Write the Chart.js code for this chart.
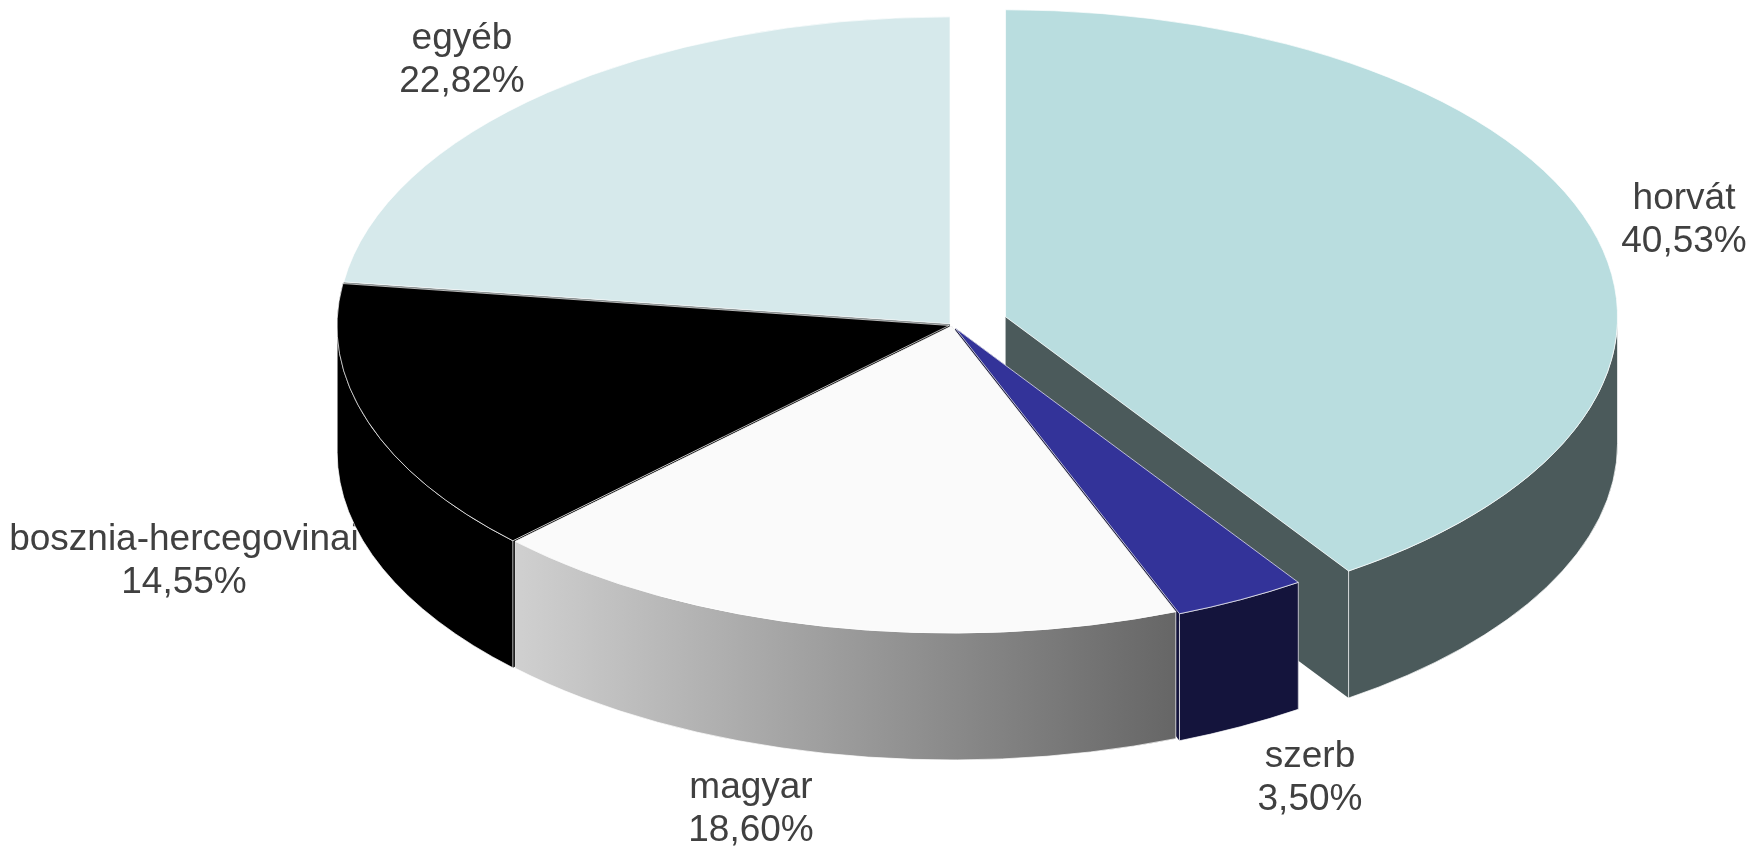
<!DOCTYPE html>
<html>
<head>
<meta charset="utf-8">
<title>Nemzetiségi megoszlás</title>
<script src="https://cdn.jsdelivr.net/npm/chart.js@4/dist/chart.umd.min.js"></script>
<style>
	html, body { margin: 0; padding: 0; background: #fff; overflow: hidden; }
	canvas { display: block; }
</style>
</head>
<body>
<canvas id="chartContainer" width="1753" height="848"></canvas>
<script>
const categories = ["horvát", "szerb", "magyar", "bosznia-hercegovinai", "egyéb"];
const shares = [40.53, 3.5, 18.6, 14.55, 22.82];

const topColors = ["#b9dddf", "#333399", "#fafafa", "#000000", "#d6e9eb"];
const wallColors = ["#4b5a5b", "#14143c", "#666666", "#000000", "#6b7475"];
const magyarWallStops = ["#d0d0d0", "#666666"];

// how the flat pie is laid on the page
const centerX = 952, centerY = 325;
const radiusX = 612, radiusY = 307, depth = 127;
const explode = [56, 7, 2, 3, 3];
const drawOrder = [4, 0, 3, 1, 2];
const labelPos = [[1684, 199], [1310, 757], [751, 788], [184, 540], [462, 39]];
const lineHeight = 43;

function drawLabels(ctx) {
	ctx.save();
	ctx.font = "37px 'Liberation Sans'";
	ctx.fillStyle = "#404040";
	ctx.textAlign = "center";
	ctx.textBaseline = "middle";
	categories.forEach((name, i) => {
		ctx.fillText(name, labelPos[i][0], labelPos[i][1]);
		ctx.fillText(shares[i].toFixed(2).replace(".", ",") + "%", labelPos[i][0], labelPos[i][1] + lineHeight);
	});
	ctx.restore();
}

function radialFace(ctx, cx, cy, angle) {
	const ex = cx + Math.cos(angle) * radiusX;
	const ey = cy + Math.sin(angle) * radiusY;
	ctx.beginPath();
	ctx.moveTo(cx, cy);
	ctx.lineTo(cx, cy + depth);
	ctx.lineTo(ex, ey + depth);
	ctx.lineTo(ex, ey);
	ctx.closePath();
	ctx.fill();
}

function drawWall(ctx, cx, cy, start, end, i) {
	ctx.fillStyle = wallColors[i];
	ctx.strokeStyle = "#ffffff";
	ctx.lineWidth = 0.7;
	// the cut faces, seen only through the gaps between slices
	radialFace(ctx, cx, cy, start);
	radialFace(ctx, cx, cy, end);

	// outer curved face, only the front half of the ellipse shows
	const a0 = Math.max(start, 0);
	const a1 = Math.min(end, Math.PI);
	if (a1 <= a0) return;
	const x0 = cx + Math.cos(a0) * radiusX;
	const x1 = cx + Math.cos(a1) * radiusX;
	if (i === 2) {
		const grad = ctx.createLinearGradient(x1, 0, x0, 0);
		grad.addColorStop(0, magyarWallStops[0]);
		grad.addColorStop(1, magyarWallStops[1]);
		ctx.fillStyle = grad;
	}
	ctx.beginPath();
	ctx.ellipse(cx, cy, radiusX, radiusY, 0, a0, a1);
	ctx.ellipse(cx, cy + depth, radiusX, radiusY, 0, a1, a0, true);
	ctx.closePath();
	ctx.fill();
	ctx.stroke();
}

const tiltedPie = {
	id: "tiltedPie",
	beforeDatasetsDraw(chart) {
		const ctx = chart.ctx;
		const arcs = chart.getDatasetMeta(0).data;
		drawLabels(ctx);
		drawOrder.forEach((i) => {
			const arc = arcs[i];
			const mid = (arc.startAngle + arc.endAngle) / 2;
			const cx = centerX + Math.cos(mid) * explode[i];
			const cy = centerY + (Math.sin(mid) * explode[i] * radiusY) / radiusX;
			drawWall(ctx, cx, cy, arc.startAngle, arc.endAngle, i);
			ctx.save();
			ctx.translate(cx, cy);
			ctx.scale(radiusX / arc.outerRadius, radiusY / arc.outerRadius);
			ctx.translate(-arc.x, -arc.y);
			arc.draw(ctx);
			ctx.restore();
		});
		return false;
	},
};

new Chart(document.getElementById("chartContainer"), {
	type: "pie",
	data: {
		labels: categories,
		datasets: [
			{
				data: shares,
				backgroundColor: topColors,
				borderColor: "#ffffff",
				borderWidth: 0.6,
			},
		],
	},
	options: {
		responsive: false,
		animation: false,
		layout: { padding: 24 },
		plugins: {
			legend: { display: false },
			tooltip: { enabled: false },
		},
	},
	plugins: [tiltedPie],
});
</script>
</body>
</html>
